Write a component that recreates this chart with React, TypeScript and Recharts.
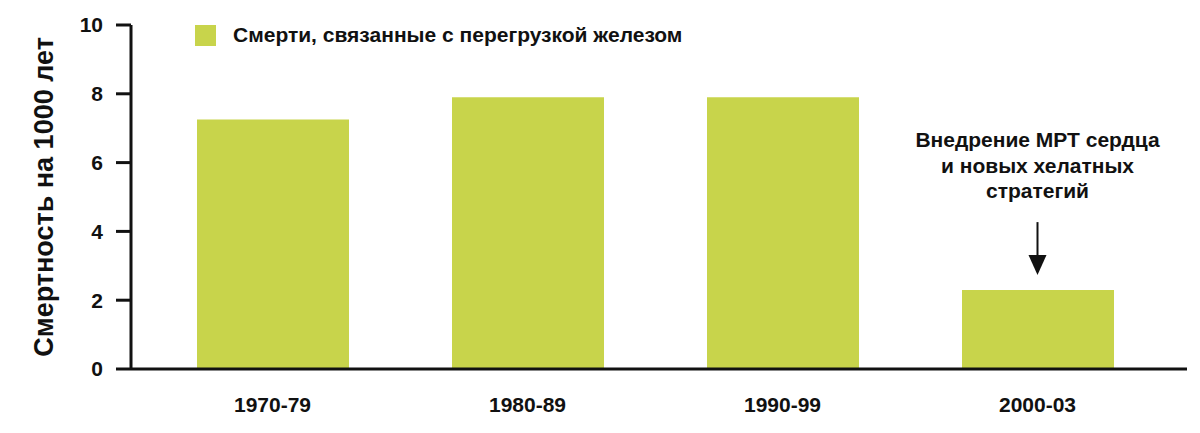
import React from "react";
import { BarChart, Bar, XAxis, YAxis, Legend, ReferenceLine } from "recharts";

const periods = ["1970-79", "1980-89", "1990-99", "2000-03"];
const deaths = [7.25, 7.9, 7.9, 2.3];
const yTicks = [0, 2, 4, 6, 8, 10];
const seriesName = "Смерти, связанные с перегрузкой железом";
const yTitle = "Смертность на 1000 лет";
const noteLines = ["Внедрение МРТ сердца", "и новых хелатных", "стратегий"];
const notePeriod = "2000-03";
const arrowFrom = 4.27;
const arrowTo = 2.73;

const data = periods.map((period, i) => ({ period, deaths: deaths[i] }));

const FONT = "'Liberation Sans', Arial, sans-serif";
const GREEN = "#c8d44b";

function LegendContent({ payload }: any) {
    return (
        <div style={{ display: "flex", alignItems: "center", fontFamily: FONT }}>
            {(payload || []).map((entry: any) => (
                <React.Fragment key={entry.value}>
                    <span style={{ width: 21, height: 21, background: GREEN, display: "inline-block" }} />
                    <span style={{ marginLeft: 17, fontSize: 21, fontWeight: 700, color: "#111", whiteSpace: "nowrap" }}>
                        {entry.value}
                    </span>
                </React.Fragment>
            ))}
        </div>
    );
}

// arrow + caption, positioned from the scaled segment ends
function ArrowNote(props: any) {
    const { x1, y1, y2 } = props;
    const head = 20;
    return (
        <g>
            {noteLines.map((line, i) => (
                <text
                    key={line}
                    x={x1}
                    y={y1 - 75 + i * 25.5}
                    textAnchor="middle"
                    fontFamily={FONT}
                    fontSize={21}
                    fontWeight={700}
                    fill="#111"
                >
                    {line}
                </text>
            ))}
            <line x1={x1} y1={y1} x2={x1} y2={y2 - head + 2} stroke="#111" strokeWidth={2} />
            <polygon points={`${x1 - 9},${y2 - head} ${x1 + 9},${y2 - head} ${x1},${y2}`} fill="#111" />
        </g>
    );
}

function YTitle({ viewBox }: any) {
    const cx = viewBox.x + 53;
    const cy = viewBox.y + viewBox.height / 2;
    return (
        <text
            x={cx}
            y={cy}
            transform={`rotate(-90, ${cx}, ${cy})`}
            textAnchor="middle"
            fontFamily={FONT}
            fontSize={27}
            fontWeight={700}
            fill="#111"
        >
            {yTitle}
        </text>
    );
}

export default function App() {
    return (
        <div style={{ position: "absolute", left: 0, top: 0, background: "#fff" }}>
            <BarChart width={1200} height={433} data={data} margin={{ top: 25, right: 13, bottom: 0, left: 0 }}>
                <XAxis
                    dataKey="period"
                    height={64}
                    padding={{ left: 14, right: 22 }}
                    tickSize={0}
                    tickMargin={28}
                    axisLine={{ stroke: "#111", strokeWidth: 3 }}
                    tick={{ fill: "#111", fontSize: 21, fontWeight: 700, fontFamily: FONT }}
                />
                <YAxis
                    width={131}
                    domain={[0, 10]}
                    ticks={yTicks}
                    tickSize={15}
                    tickMargin={13}
                    axisLine={{ stroke: "#111", strokeWidth: 3 }}
                    tickLine={{ stroke: "#111", strokeWidth: 3 }}
                    tick={{ fill: "#111", fontSize: 21, fontWeight: 700, fontFamily: FONT }}
                    label={{ content: <YTitle /> }}
                />
                <Legend
                    layout="horizontal"
                    verticalAlign="middle"
                    align="center"
                    wrapperStyle={{ top: 23, left: 195, width: "auto", height: "auto" }}
                    content={<LegendContent />}
                />
                <Bar dataKey="deaths" name={seriesName} fill={GREEN} barSize={152} isAnimationActive={false} />
                <ReferenceLine
                    segment={[
                        { x: notePeriod, y: arrowFrom },
                        { x: notePeriod, y: arrowTo },
                    ]}
                    stroke="#111"
                    shape={<ArrowNote />}
                />
            </BarChart>
        </div>
    );
}
